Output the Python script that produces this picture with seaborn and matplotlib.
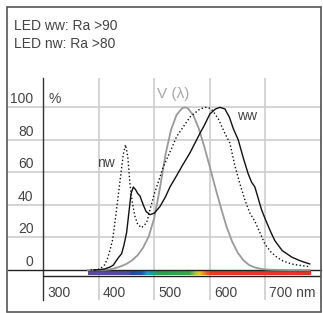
import numpy as np
import pandas as pd
import seaborn as sns
import matplotlib.pyplot as plt
from matplotlib.colors import LinearSegmentedColormap
from matplotlib.patches import Rectangle

# relative spectral distribution (nm / %)
wl_v = [380, 390, 400, 410, 420, 430, 440, 450, 460, 470, 480, 490, 500, 510, 520, 530,
        540, 550, 555, 560, 570, 580, 590, 600, 610, 620, 630, 640, 650, 660, 670, 680,
        690, 700, 710, 720, 740, 760, 780]
v_lambda = [0.0, 0.0, 0.05, 0.1, 0.4, 1.2, 2.3, 3.8, 6.0, 9.1, 13.9, 20.8, 32.3, 50.3, 71.0, 86.2,
            95.4, 99.5, 100.0, 99.5, 95.2, 87.0, 75.7, 63.1, 50.3, 38.1, 26.5, 17.5, 10.7, 6.1, 3.2, 1.7,
            0.8, 0.4, 0.2, 0.1, 0.0, 0.0, 0.0]

wl_ww = [390, 400, 410, 420, 426, 430, 435, 441, 445, 450, 455, 458, 462, 466, 470, 474,
         480, 485, 492, 500, 510, 520, 528, 540, 550, 564, 570, 582, 590, 600, 610, 618,
         627, 635, 642, 651, 660, 669, 675, 681, 687, 693, 700, 710, 717, 730, 747, 760,
         770, 780]
ww = [0.0, 0.2, 0.6, 1.8, 3.0, 5.0, 7.5, 10.0, 15.0, 23.0, 38.0, 47.0, 51.0, 49.5, 47.0, 45.5,
      40.0, 36.0, 34.0, 35.0, 39.0, 45.0, 51.0, 58.0, 64.0, 72.0, 76.0, 84.0, 89.0, 96.0, 99.0, 100.0,
      99.0, 94.0, 87.0, 80.0, 69.0, 59.0, 54.0, 51.0, 44.0, 37.0, 31.0, 23.0, 18.0, 12.0, 8.0, 6.0,
      4.8, 3.7]

wl_nw = [385, 395, 400, 405, 410, 415, 420, 425, 430, 435, 440, 444, 448, 452, 456, 460,
         465, 470, 477, 486, 492, 500, 510, 516, 530, 540, 550, 564, 580, 590, 597, 605,
         615, 627, 636, 645, 654, 663, 672, 681, 690, 699, 710, 720, 729, 740, 750, 760,
         770, 780]
nw = [0.0, 0.0, 0.5, 1.5, 3.0, 6.5, 12.0, 19.0, 32.0, 46.0, 60.0, 71.0, 77.0, 70.0, 53.0, 42.0,
      33.0, 28.0, 26.0, 29.0, 37.0, 47.0, 57.0, 63.5, 74.0, 82.0, 87.0, 94.0, 98.5, 100.0, 100.0, 98.0,
      93.0, 84.0, 78.0, 64.0, 53.0, 43.0, 35.0, 30.0, 23.0, 16.0, 11.0, 8.0, 6.0, 4.5, 3.5, 3.0,
      2.5, 2.0]

x_ticks = [300, 400, 500, 600, 700]
x_labels = ["300", "400", "500", "600", "700 nm"]
y_ticks = [0, 20, 40, 60, 80, 100]

# visible spectrum stripe
spec_nm = [380, 440, 452, 458, 476, 486, 496, 506, 562, 572, 580, 590, 600, 780]
spec_col = ['#5b4a9c', '#534c9e', '#4a4ea0', '#1d4f9c', '#1b5aa8', '#179fd0', '#1aa08a',
            '#2aa14c', '#3aa545', '#a8c43a', '#f2c21c', '#ec7a24', '#e8382a', '#e8302a']

df_v = pd.DataFrame({"nm": wl_v, "val": v_lambda})
df_ww = pd.DataFrame({"nm": wl_ww, "val": ww})
df_nw = pd.DataFrame({"nm": wl_nw, "val": nw})

sns.set_style("white")
plt.rcParams['font.family'] = ['Liberation Sans', 'DejaVu Sans']
txt = '#444444'

fig = plt.figure(figsize=(3.23, 3.13), dpi=100)
ax = fig.add_axes([43.3 / 323, 13 / 313, (321 - 43.3) / 323, 222 / 313])
ax.set_xlim(300, 800)
ax.set_ylim(-18.44, 118.05)

# grid
for t in [300, 400, 500, 600, 700, 800]:
    ax.axvline(t, color='#cdcdcd', lw=1.2, zorder=0)
for t in y_ticks[1:]:
    ax.axhline(t, xmin=-0.127, xmax=1, color='#cdcdcd', lw=1.2, zorder=0, clip_on=False)
ax.axhline(0, xmin=-0.127, xmax=1, color='#222222', lw=1.0, zorder=3, clip_on=False)
ax.axhline(-3.4, xmin=0, xmax=1, color='#222222', lw=1.0, zorder=3)

# spectrum bar
pos = [(n - spec_nm[0]) / (spec_nm[-1] - spec_nm[0]) for n in spec_nm]
cmap = LinearSegmentedColormap.from_list("spec", list(zip(pos, spec_col)))
ax.imshow(np.linspace(0, 1, 400).reshape(1, -1), cmap=cmap, aspect='auto',
          extent=[spec_nm[0], spec_nm[-1], -3.1, -0.6], zorder=2)

# curves
sns.lineplot(data=df_v, x="nm", y="val", ax=ax, color='#9a9a9a', lw=1.3, zorder=4)
sns.lineplot(data=df_nw, x="nm", y="val", ax=ax, color='#111111', lw=1.0, ls=':', zorder=5)
sns.lineplot(data=df_ww, x="nm", y="val", ax=ax, color='#111111', lw=1.0, zorder=6)

ax.set_xlabel("")
ax.set_ylabel("")
ax.set_xticks([])
ax.set_yticks([])
for s in ['top', 'right', 'bottom']:
    ax.spines[s].set_visible(False)
ax.spines['left'].set_color('#333333')
ax.spines['left'].set_linewidth(1.0)

# tick labels
ytr = ax.get_yaxis_transform()
for t in y_ticks:
    ax.text(-0.035, t + 2.5, str(t), transform=ytr, ha='right', va='baseline', fontsize=10, color=txt)
ax.text(0.017, 102.5, "%", transform=ytr, ha='left', va='baseline', fontsize=10, color=txt)
for t, lab in zip(x_ticks, x_labels):
    ax.text(t + 7, -16.6, lab, ha='left', va='baseline', fontsize=10, color=txt)

# curve labels
ax.text(505, 105.9, "V (λ)", ha='left', va='baseline', fontsize=11, color='#a8a8a8')
ax.text(649, 92.2, "ww", ha='left', va='baseline', fontsize=10, color=txt)
ax.text(397, 63.3, "nw", ha='left', va='baseline', fontsize=10, color=txt)

fig.text(14 / 323, 1 - 30 / 313, "LED ww: Ra >90", ha='left', va='baseline', fontsize=10, color=txt)
fig.text(14 / 323, 1 - 47.7 / 313, "LED nw: Ra >80", ha='left', va='baseline', fontsize=10, color=txt)

fig.patches.append(Rectangle((6.5 / 323, 1.5 / 313), 314.5 / 323, 305 / 313, transform=fig.transFigure,
                             fill=False, edgecolor='#555555', lw=1.2))

fig.savefig("out.png", dpi=100)
